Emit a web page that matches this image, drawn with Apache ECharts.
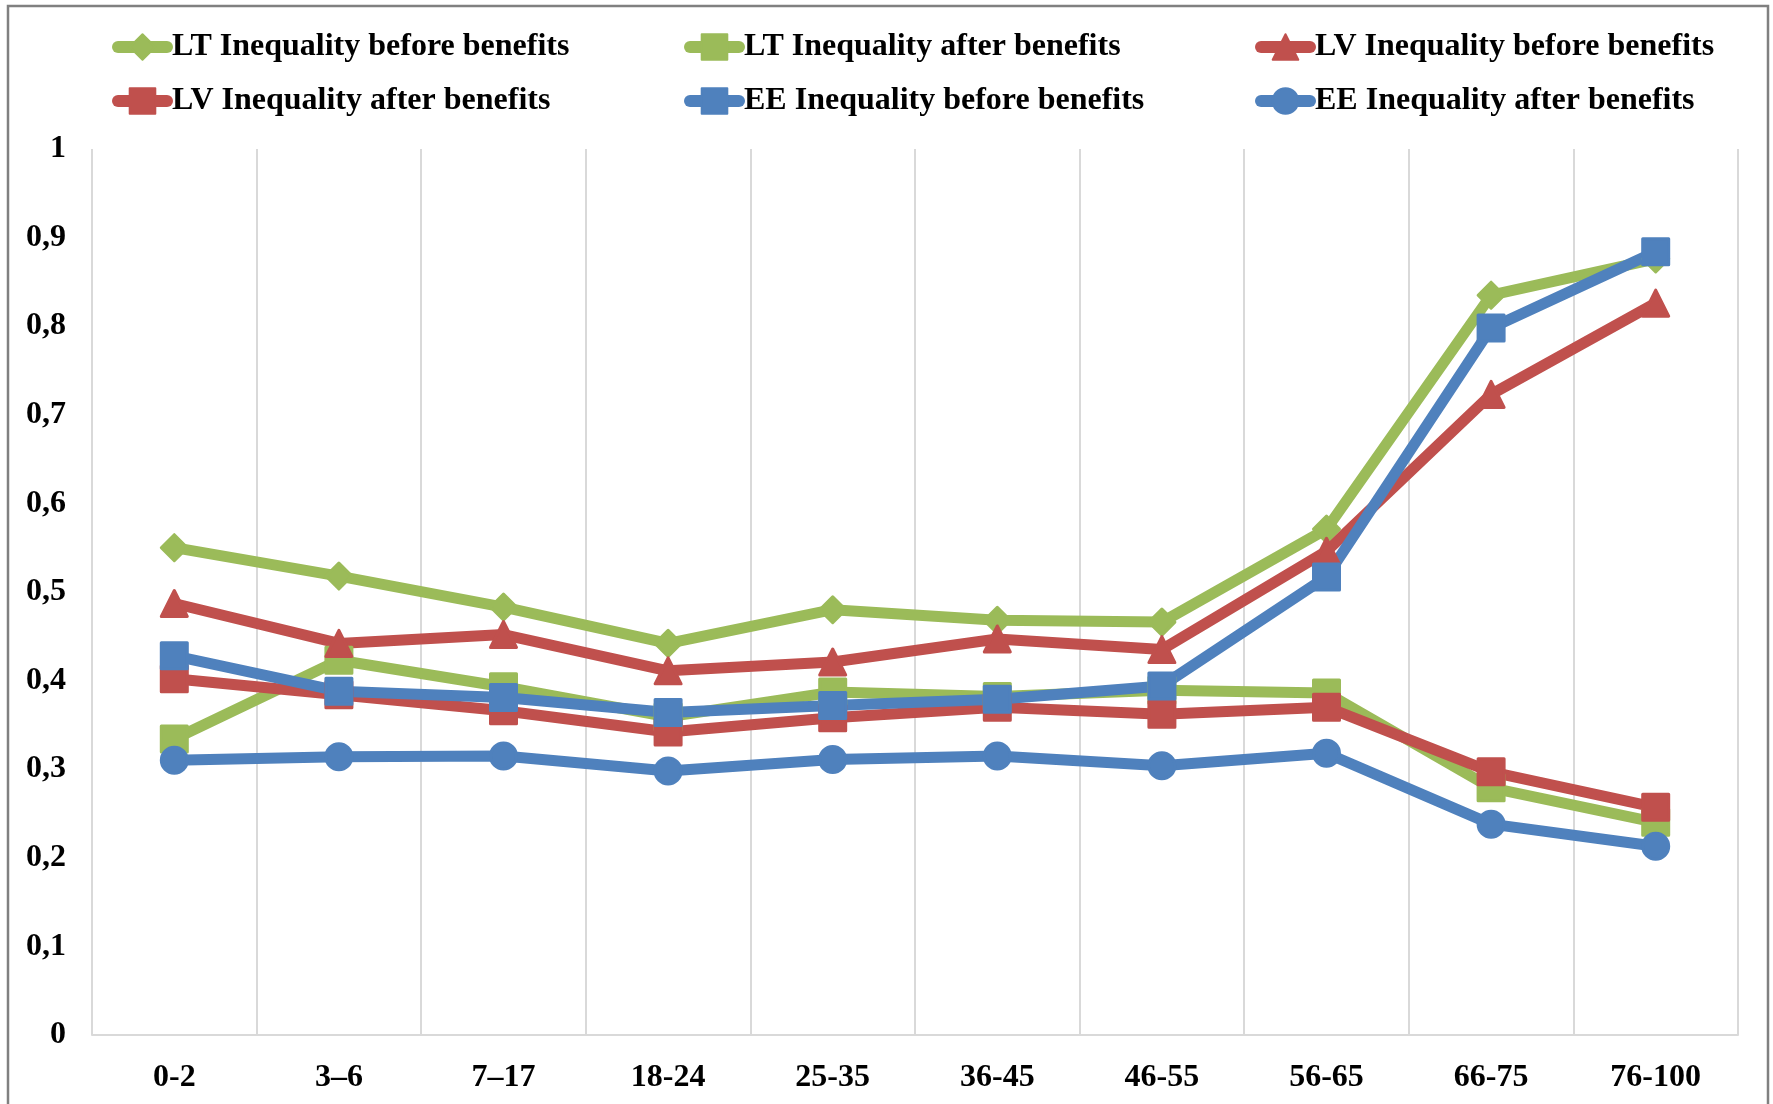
<!DOCTYPE html>
<html>
<head>
<meta charset="utf-8">
<title>Inequality before and after benefits by age group</title>
<script src="https://cdn.jsdelivr.net/npm/echarts@6/dist/echarts.min.js"></script>
<style>
  html, body { margin: 0; padding: 0; background: #ffffff; }
  #chart { width: 1773px; height: 1104px; }
</style>
</head>
<body>
<div id="chart"></div>
<script>
// Age groups along the horizontal axis
const ageGroups = ['0-2', '3\u20136', '7\u201317', '18-24', '25-35', '36-45', '46-55', '56-65', '66-75', '76-100'];

// Inequality index per age group
const ltBefore = [0.550, 0.518, 0.483, 0.442, 0.480, 0.468, 0.466, 0.571, 0.835, 0.876];
const ltAfter  = [0.334, 0.423, 0.393, 0.359, 0.387, 0.382, 0.389, 0.386, 0.279, 0.240];
const lvBefore = [0.487, 0.442, 0.452, 0.411, 0.421, 0.447, 0.435, 0.546, 0.723, 0.826];
const lvAfter  = [0.402, 0.384, 0.366, 0.342, 0.358, 0.370, 0.362, 0.370, 0.297, 0.257];
const eeBefore = [0.428, 0.388, 0.381, 0.364, 0.372, 0.379, 0.394, 0.517, 0.798, 0.884];
const eeAfter  = [0.310, 0.314, 0.315, 0.298, 0.311, 0.315, 0.304, 0.318, 0.238, 0.213];

// Y axis tick values and their labels (comma decimal separator)
const yTicks = [0, 0.1, 0.2, 0.3, 0.4, 0.5, 0.6, 0.7, 0.8, 0.9, 1];
const yTickLabels = ['0', '0,1', '0,2', '0,3', '0,4', '0,5', '0,6', '0,7', '0,8', '0,9', '1'];

const GREEN = '#9BBB59';
const RED = '#C0504D';
const BLUE = '#4F81BD';
const FONT = "'Liberation Serif', 'Times New Roman', serif";

function makeSeries(name, data, color, symbol) {
  return {
    name: name,
    type: 'line',
    data: data,
    symbol: symbol,
    symbolSize: 26,
    showAllSymbol: true,
    lineStyle: { color: color, width: 11, cap: 'round', join: 'round' },
    itemStyle: { color: color, borderColor: color, borderWidth: 3, borderJoin: 'round' },
    emphasis: { disabled: true }
  };
}

const legendCommon = {
  orient: 'vertical',
  padding: 0,
  itemWidth: 49,
  itemHeight: 32,
  itemGap: 22,
  selectedMode: false,
  lineStyle: { width: 12, cap: 'round' },
  textStyle: { fontFamily: FONT, fontWeight: 'bold', fontSize: 32, color: '#000000' }
};

const chart = echarts.init(document.getElementById('chart'), null, { renderer: 'canvas' });

chart.setOption({
  animation: false,
  backgroundColor: '#ffffff',
  graphic: [{
    type: 'rect',
    shape: { x: 8, y: 6, width: 1760, height: 1200 },
    style: { fill: 'none', stroke: '#808080', lineWidth: 2.5 },
    silent: true
  }],
  legend: [
    Object.assign({ left: 112, top: 31, data: ['LT Inequality before benefits', 'LV Inequality after benefits'] }, legendCommon),
    Object.assign({ left: 684, top: 31, data: ['LT Inequality after benefits', 'EE Inequality before benefits'] }, legendCommon),
    Object.assign({ left: 1255, top: 31, data: ['LV Inequality before benefits', 'EE Inequality after benefits'] }, legendCommon)
  ],
  grid: { left: 92, right: 35, top: 149, bottom: 69, containLabel: false },
  xAxis: {
    type: 'category',
    data: ageGroups,
    boundaryGap: true,
    axisLine: { show: true, lineStyle: { color: '#d9d9d9', width: 2 } },
    axisTick: { show: false },
    axisLabel: {
      interval: 0,
      margin: 27,
      fontFamily: FONT,
      fontWeight: 'bold',
      fontSize: 32,
      color: '#000000'
    },
    splitLine: { show: true, lineStyle: { color: '#d9d9d9', width: 2 } }
  },
  yAxis: {
    type: 'value',
    min: 0,
    max: 1,
    interval: 0.1,
    axisLine: { show: false },
    axisTick: { show: false },
    splitLine: { show: false },
    axisLabel: {
      margin: 26,
      fontFamily: FONT,
      fontWeight: 'bold',
      fontSize: 32,
      color: '#000000',
      formatter: function (v) {
        const i = yTicks.findIndex(function (t) { return Math.abs(t - v) < 1e-9; });
        return i >= 0 ? yTickLabels[i] : String(v).replace('.', ',');
      }
    }
  },
  series: [
    makeSeries('LT Inequality before benefits', ltBefore, GREEN, 'diamond'),
    makeSeries('LT Inequality after benefits', ltAfter, GREEN, 'rect'),
    makeSeries('LV Inequality before benefits', lvBefore, RED, 'triangle'),
    makeSeries('LV Inequality after benefits', lvAfter, RED, 'rect'),
    makeSeries('EE Inequality before benefits', eeBefore, BLUE, 'rect'),
    makeSeries('EE Inequality after benefits', eeAfter, BLUE, 'circle')
  ]
});
</script>
</body>
</html>
